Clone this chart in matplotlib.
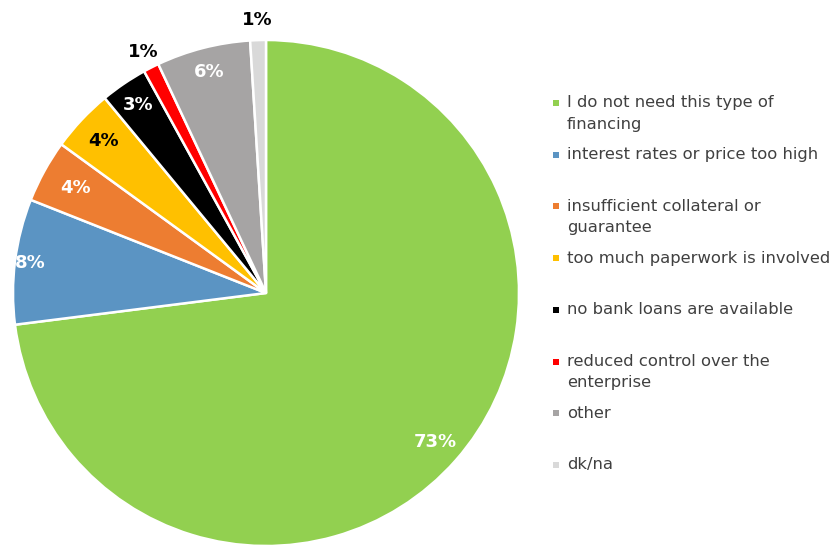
import numpy as np
import matplotlib
matplotlib.use("Agg")
import matplotlib.pyplot as plt

categories = [
    "I do not need this type of\nfinancing",
    "interest rates or price too high",
    "insufficient collateral or\nguarantee",
    "too much paperwork is involved",
    "no bank loans are available",
    "reduced control over the\nenterprise",
    "other",
    "dk/na",
]
values = [73, 8, 4, 4, 3, 1, 6, 1]
labels = ["73%", "8%", "4%", "4%", "3%", "1%", "6%", "1%"]
colors = ["#92D050", "#5B94C3", "#ED7D31", "#FFC000", "#000000", "#FF0000", "#A6A4A4", "#D9D9D9"]
label_colors = ["white", "white", "white", "black", "white", "black", "white", "black"]
label_radius = [0.89, 0.94, 0.86, 0.88, 0.90, 1.07, 0.90, 1.08]

W, H = 838, 546
fig = plt.figure(figsize=(W / 100, H / 100), dpi=100)
cx, cy, R = 266, 293, 253
ax = fig.add_axes([(cx - R) / W, (H - cy - R) / H, 2 * R / W, 2 * R / H])
wedges, _ = ax.pie(values, colors=colors, startangle=90, counterclock=False,
                   radius=1, wedgeprops=dict(edgecolor="white", linewidth=1.8))
ax.set_xlim(-1, 1)
ax.set_ylim(-1, 1)
ax.set_aspect("equal")
ax.axis("off")

for w, lab, lc, lr in zip(wedges, labels, label_colors, label_radius):
    mid = np.deg2rad((w.theta1 + w.theta2) / 2)
    ax.text(lr * np.cos(mid), lr * np.sin(mid), lab, ha="center", va="center",
            color=lc, fontsize=13, fontweight="bold", family="DejaVu Sans",
            clip_on=False)

# legend
y0 = 103
step = 51.7
line_h = 21
for i, (cat, col) in enumerate(zip(categories, colors)):
    y = y0 + i * step
    fig.patches.append(plt.Rectangle(((556 - 3) / W, 1 - (y + 3) / H), 6 / W, 6 / H,
                                     transform=fig.transFigure, facecolor=col,
                                     edgecolor="none"))
    for k, line in enumerate(cat.split("\n")):
        fig.text(567 / W, 1 - (y + k * line_h) / H, line, ha="left", va="center",
                 fontsize=11.8, color="#404040", family="DejaVu Sans")

fig.savefig("out.png", dpi=100)
